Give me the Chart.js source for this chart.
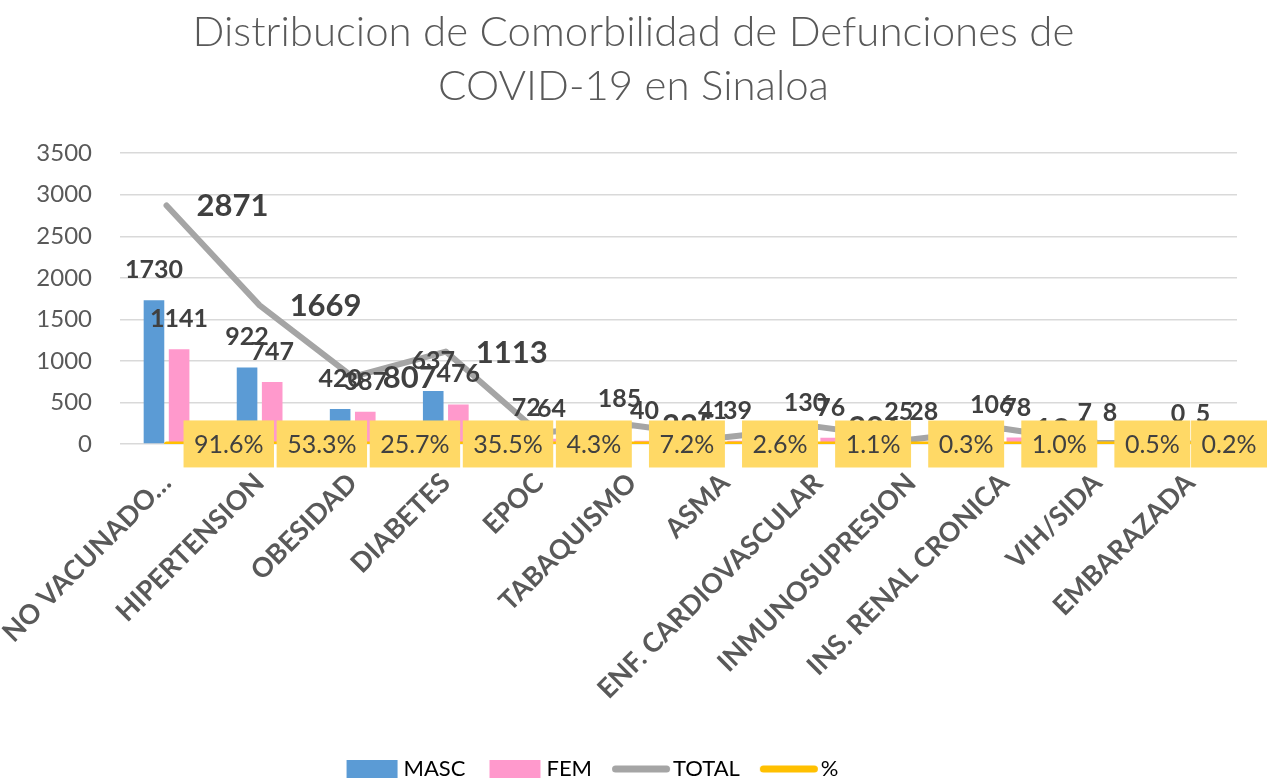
<!DOCTYPE html>
<html>
<head>
<meta charset="utf-8">
<title>Comorbilidad COVID-19 Sinaloa</title>
<script src="https://cdn.jsdelivr.net/npm/chart.js@4.4.0/dist/chart.umd.min.js"></script>
<style>
    html, body { margin: 0; padding: 0; background: #fff; overflow: hidden; }
    #wrap { width: 1267px; height: 778px; overflow: hidden; position: relative; }
    #chart { display: block; }
</style>
</head>
<body>
<div id="wrap"><canvas id="chart" width="1267" height="790"></canvas></div>
<script>
/* global Chart */

const categories = [
    'NO VACUNADO…', 'HIPERTENSION', 'OBESIDAD', 'DIABETES', 'EPOC', 'TABAQUISMO',
    'ASMA', 'ENF. CARDIOVASCULAR', 'INMUNOSUPRESION', 'INS. RENAL CRONICA', 'VIH/SIDA', 'EMBARAZADA'
];
const mascValues = [1730, 922, 420, 637, 72, 185, 41, 130, 25, 106, 7, 0];
const femValues = [1141, 747, 387, 476, 64, 40, 39, 76, 28, 78, 8, 5];
const totalValues = [2871, 1669, 807, 1113, 136, 225, 80, 206, 53, 184, 15, 5];
const pctValues = [0.916, 0.533, 0.257, 0.355, 0.043, 0.072, 0.026, 0.011, 0.003, 0.010, 0.005, 0.002];
const yTickMin = 0;
const yTickMax = 3500;
const yTickStep = 500;

const FONT = 'Lato, "Open Sans", sans-serif';
const TEXT_GREY = '#595959';
const LABEL_GREY = '#404040';

/**
 * Build a small legend key image
 *
 * @param {string} color Key colour
 * @param {string} kind 'box' or 'line'
 */
const makeKey = (color, kind) => {
    'use strict';

    const c = document.createElement('canvas');
    c.width = 70;
    c.height = 20;
    const ctx = c.getContext('2d');

    if (kind === 'box') {
        ctx.fillStyle = color;
        ctx.fillRect(14, 1, 51, 18);
    } else {
        ctx.strokeStyle = color;
        ctx.lineWidth = 7;
        ctx.lineCap = 'round';
        ctx.beginPath();
        ctx.moveTo(13.5, 10);
        ctx.lineTo(64.5, 10);
        ctx.stroke();
    }

    return c;
};

const legendKeys = [
    makeKey('#5b9bd5', 'box'),
    makeKey('#ff99cc', 'box'),
    makeKey('#a5a5a5', 'line'),
    makeKey('#ffc000', 'line')
];

// Data labels, drawn on top of all series (Excel style)
const valueLabels = {
    id: 'valueLabels',
    afterLayout(chart) {
        // Excel puts the legend a bit left of centre
        chart.legend.left -= 43;
        chart.legend.right -= 43;
    },
    afterDatasetsDraw(chart) {
        const ctx = chart.ctx;
        ctx.save();

        // bar labels
        ctx.font = 'bold 25px ' + FONT;
        ctx.fillStyle = LABEL_GREY;
        ctx.textAlign = 'center';
        ctx.textBaseline = 'alphabetic';
        [0, 1].forEach(di => {
            chart.getDatasetMeta(di).data.forEach((bar, i) => {
                ctx.fillText(String(chart.data.datasets[di].data[i]), bar.x, bar.y - 22);
            });
        });

        // total labels
        ctx.font = 'bold 31px ' + FONT;
        ctx.textAlign = 'left';
        ctx.textBaseline = 'middle';
        chart.getDatasetMeta(2).data.forEach((pt, i) => {
            ctx.fillText(String(chart.data.datasets[2].data[i]), pt.x + 30, pt.y + 1);
        });

        // percentage boxes
        ctx.font = '25px ' + FONT;
        ctx.textAlign = 'center';
        chart.getDatasetMeta(3).data.forEach((pt, i) => {
            const text = (chart.data.datasets[3].data[i] * 100).toFixed(1) + '%';
            const w = ctx.measureText(text).width + 21;
            const h = 47;
            let left = pt.x + 17;
            if (left + w > chart.width) {
                left = chart.width - w;
            }
            const top = pt.y - h / 2;
            ctx.fillStyle = '#ffd966';
            ctx.fillRect(left, top, w, h);
            ctx.fillStyle = LABEL_GREY;
            ctx.fillText(text, left + w / 2, top + h / 2 + 1);
        });

        ctx.restore();
    }
};

const data = {
    labels: categories,
    datasets: [
        {
            type: 'bar',
            label: 'MASC',
            data: mascValues,
            backgroundColor: '#5b9bd5',
            categoryPercentage: 0.54,
            barPercentage: 0.82,
            order: 2
        },
        {
            type: 'bar',
            label: 'FEM',
            data: femValues,
            backgroundColor: '#ff99cc',
            categoryPercentage: 0.54,
            barPercentage: 0.82,
            order: 2
        },
        {
            type: 'line',
            label: 'TOTAL',
            data: totalValues,
            borderColor: '#a5a5a5',
            backgroundColor: '#a5a5a5',
            borderWidth: 6,
            pointRadius: 0,
            tension: 0,
            borderJoinStyle: 'round',
            borderCapStyle: 'round',
            order: 1
        },
        {
            type: 'line',
            label: '%',
            data: pctValues,
            borderColor: '#ffc000',
            backgroundColor: '#ffc000',
            borderWidth: 5,
            pointRadius: 0,
            tension: 0,
            borderCapStyle: 'round',
            order: 0
        }
    ]
};

const options = {
    responsive: false,
    animation: false,
    devicePixelRatio: 1,
    layout: { padding: 0 },
    plugins: {
        title: {
            display: true,
            text: ['Distribucion de Comorbilidad de Defunciones de', 'COVID-19 en Sinaloa'],
            color: TEXT_GREY,
            font: { family: FONT, size: 42, weight: '300', lineHeight: 1.3 },
            padding: { top: 5, bottom: 39 }
        },
        legend: {
            position: 'bottom',
            labels: {
                usePointStyle: true,
                pointStyleWidth: 50,
                color: TEXT_GREY,
                font: { family: FONT, size: 22 },
                padding: 20,
                generateLabels: (chart) => chart.data.datasets.map((ds, i) => ({
                    text: ds.label,
                    pointStyle: legendKeys[i],
                    fillStyle: ds.backgroundColor,
                    strokeStyle: ds.backgroundColor,
                    lineWidth: 0,
                    hidden: false,
                    datasetIndex: i
                }))
            }
        },
        tooltip: { enabled: false }
    },
    scales: {
        x: {
            grid: { display: false },
            border: { display: false },
            ticks: {
                color: TEXT_GREY,
                font: { family: FONT, size: 27, weight: 'bold' },
                minRotation: 45,
                maxRotation: 45,
                autoSkip: false,
                padding: 15
            },
            afterFit: (scale) => {
                scale.height = 294;
                scale.paddingLeft = 0;
                scale.paddingRight = 30;
            }
        },
        y: {
            min: yTickMin,
            max: yTickMax,
            grid: { color: '#d9d9d9', lineWidth: 1.5, drawTicks: false },
            border: { display: false },
            ticks: {
                stepSize: yTickStep,
                color: TEXT_GREY,
                font: { family: FONT, size: 24 },
                padding: 28,
                callback: (value) => String(value)
            },
            afterFit: (scale) => {
                scale.width = 120;
            }
        }
    }
};

const chart = new Chart(document.getElementById('chart'), { // eslint-disable-line no-unused-vars
    type: 'bar',
    data: data,
    options: options,
    plugins: [valueLabels]
});
</script>
</body>
</html>
